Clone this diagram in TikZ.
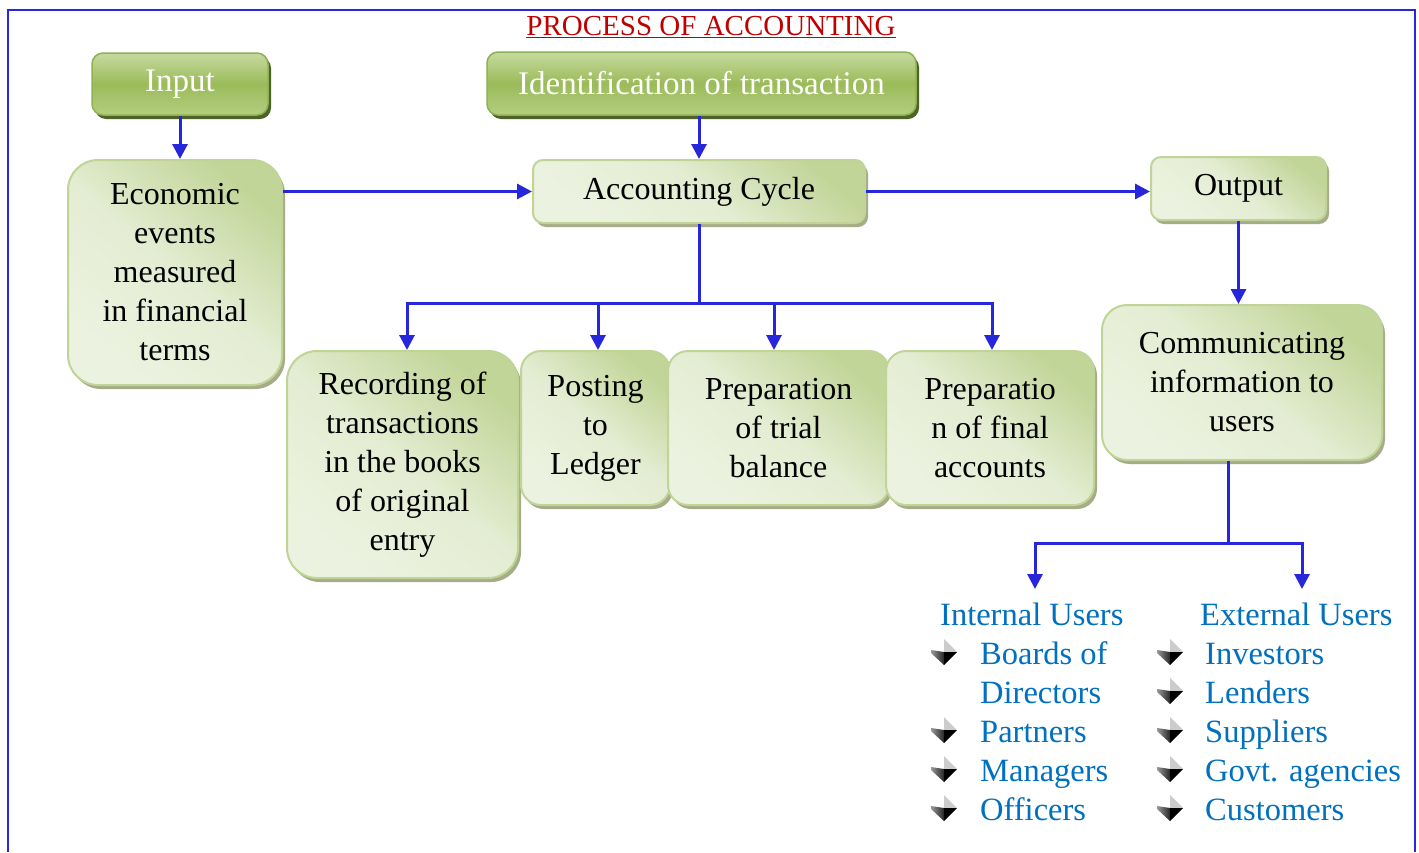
\documentclass[tikz,border=0pt]{standalone}
\usepackage{fontspec}
\setmainfont{Liberation Serif}
\usetikzlibrary{arrows.meta,shadows}
\definecolor{arrowblue}{RGB}{38,38,218}
\definecolor{frameblue}{RGB}{40,40,225}
\definecolor{titlered}{RGB}{192,0,0}
\definecolor{userblue}{RGB}{0,112,192}
\definecolor{lgTop}{RGB}{193,213,152}
\definecolor{lgMid}{RGB}{228,237,211}
\definecolor{lgBot}{RGB}{236,242,224}
\definecolor{lgLine}{RGB}{192,212,152}
\definecolor{lgShadow}{RGB}{165,172,135}
\definecolor{dgTop}{RGB}{198,218,160}
\definecolor{dgMid}{RGB}{155,187,89}
\definecolor{dgBot}{RGB}{180,206,128}
\definecolor{dgLine}{RGB}{142,177,83}
\definecolor{dgShadow}{RGB}{79,98,40}
\tikzset{
  lightbox/.style={draw=lgLine, line width=2pt, rounded corners=#1,
    top color=lgTop, bottom color=lgBot, middle color=lgMid, shading angle=-40,
    drop shadow={shadow xshift=3pt, shadow yshift=-4pt, fill=lgShadow, opacity=1},
    align=center, font=\fontsize{32}{39}\selectfont, text=black, inner sep=0pt},
  lightbox/.default=25pt,
  darkbox/.style={draw=dgLine, line width=1.5pt, rounded corners=11pt,
    top color=dgTop, bottom color=dgBot, middle color=dgMid,
    drop shadow={shadow xshift=3pt, shadow yshift=-4pt, fill=dgShadow, opacity=1},
    align=center, font=\fontsize{33}{39}\selectfont, text=white, inner sep=0pt},
  conn/.style={draw=arrowblue, line width=3pt},
  arr/.style={conn, -{Triangle[length=15pt,width=15pt]}},
  user/.style={text=userblue, font=\fontsize{32.5}{39}\selectfont, anchor=base west, inner sep=0pt},
  bul/.pic={
    \fill[gray!40] (0,0) -- (0,-13) -- (13,0) -- cycle;
    \shade[left color=gray!80, right color=black!85] (0,0) -- (-13,-2) -- (-13,1) -- (0,13) -- cycle;
    \fill[black] (0,0) -- (13,0) -- (0,13) -- cycle;
  }
}
\begin{document}
\begin{tikzpicture}[x=1pt,y=-1pt]
\useasboundingbox (0,0) rectangle (1419,852);
\fill[white] (0,0) rectangle (1419,852);
\draw[frameblue, line width=2pt] (8,852) |- (1415,10) -- (1415,852);

\node[text=titlered, font=\fontsize{29}{30}\selectfont, inner sep=0pt] (title) at (711,27) {\underline{PROCESS OF ACCOUNTING}};

\node[darkbox, minimum width=176pt, minimum height=62pt] (input) at (180,84) {Input};
\node[darkbox, minimum width=429pt, minimum height=63pt] (ident) at (701.5,83.5) {Identification of transaction};

\node[lightbox=30pt, minimum width=214pt, minimum height=225pt] (econ) at (175,272.5) {Economic\\events\\measured\\in financial\\terms};
\node[lightbox=10pt, minimum width=332pt, minimum height=63pt] (acc) at (699,191.5) {Accounting Cycle};
\node[lightbox=10pt, minimum width=175pt, minimum height=63pt] (out) at (1238.5,188.5) {Output};
\node[lightbox=25pt, minimum width=280pt, minimum height=155pt] (comm) at (1242,382.5) {Communicating\\information to\\users};

\node[lightbox=30pt, minimum width=231pt, minimum height=227pt] (rec) at (402.5,464.5) {Recording of\\transactions\\in the books\\of original\\entry};
\node[lightbox=20pt, minimum width=149pt, minimum height=154pt] (post) at (595.5,428) {Posting\\to\\Ledger};
\node[lightbox=20pt, minimum width=221pt, minimum height=154pt] (trial) at (778.5,428) {Preparation\\of trial\\balance};
\node[lightbox=20pt, minimum width=208pt, minimum height=154pt] (final) at (990,428) {Preparatio\\n of final\\accounts};

% connectors
\draw[arr] (input.south) -- (input.south |- econ.north);
\draw[arr] (ident.south -| acc.north) -- (acc.north);
\draw[arr] (acc.west -| econ.east) -- (acc.west);
\draw[arr] (acc.east) -- (acc.east -| out.west);
\draw[arr] (out.south) -- (out.south |- comm.north);

\coordinate (bus) at (699,303);
\draw[conn] (acc.south) -- (bus);
\draw[arr] (bus) -| ([xshift=4.5pt]rec.north);
\draw[arr] (bus) -| ([xshift=2.5pt]post.north);
\draw[arr] (bus) -| ([xshift=-4.5pt]trial.north);
\draw[arr] (bus) -| ([xshift=2pt]final.north);

% users
\node[user] (iu) at (940,625) {Internal Users};
\node[user] (eu) at (1200,625) {External Users};
\coordinate (ubus) at (1228,543);
\coordinate (iuarr) at (1035,589);
\coordinate (euarr) at (1302,589);
\draw[conn] (comm.south -| ubus) -- (ubus);
\draw[arr] (ubus) -| (iuarr);
\draw[arr] (ubus) -| (euarr);

\node[user] (i1) at (980,664) {Boards of};
\node[user] (i1b) at (980,703) {Directors};
\node[user] (i2) at (980,742) {Partners};
\node[user] (i3) at (980,781) {Managers};
\node[user] (i4) at (980,820) {Officers};
\pic at (944,652) {bul};
\pic at (944,730) {bul};
\pic at (944,769) {bul};
\pic at (944,808) {bul};

\node[user] (e1) at (1205,664) {Investors};
\node[user] (e2) at (1205,703) {Lenders};
\node[user] (e3) at (1205,742) {Suppliers};
\node[user] (e4) at (1205,781) {Govt. agencies};
\node[user] (e5) at (1205,820) {Customers};
\pic at (1170,652) {bul};
\pic at (1170,691) {bul};
\pic at (1170,730) {bul};
\pic at (1170,769) {bul};
\pic at (1170,808) {bul};
\end{tikzpicture}
\end{document}
